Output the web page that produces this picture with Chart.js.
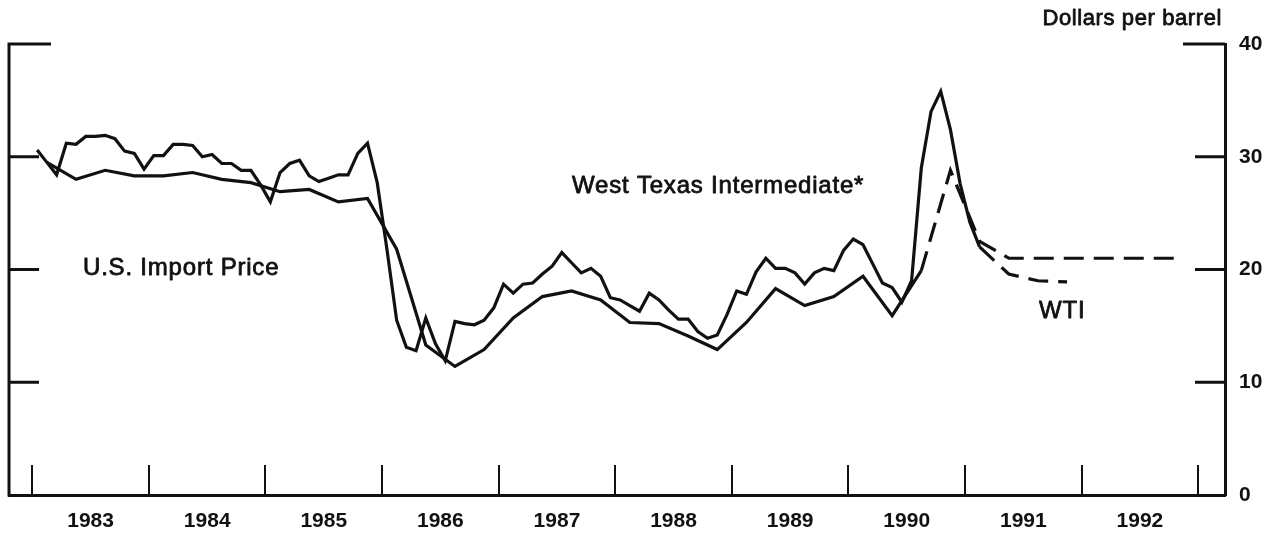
<!DOCTYPE html>
<html>
<head>
<meta charset="utf-8">
<title>Oil Prices</title>
<script src="https://cdn.jsdelivr.net/npm/chart.js@4.4.0/dist/chart.umd.min.js"></script>
<style>
  html, body { margin: 0; padding: 0; background: #fff; }
  #wrap { position: relative; width: 1277px; height: 535px; }
</style>
</head>
<body>
<div id="wrap"><canvas id="oilChart" width="1277" height="535"></canvas></div>
<script>
// West Texas Intermediate, monthly, dollars per barrel
var wti1983 = [30.6, 29.5, 28.4, 31.2, 31.1, 31.8, 31.8, 31.9, 31.6, 30.5, 30.3, 28.9];
var wti1984 = [30.1, 30.1, 31.1, 31.1, 31.0, 30.0, 30.2, 29.4, 29.4, 28.8, 28.8, 27.5];
var wti1985 = [26.0, 28.6, 29.4, 29.7, 28.3, 27.8, 28.1, 28.4, 28.4, 30.3, 31.2, 27.7];
var wti1986 = [21.8, 15.5, 13.1, 12.8, 15.7, 13.4, 11.9, 15.4, 15.2, 15.1, 15.5, 16.6];
var wti1987 = [18.7, 17.9, 18.7, 18.8, 19.6, 20.3, 21.5, 20.6, 19.7, 20.1, 19.4, 17.5];
var wti1988 = [17.3, 16.8, 16.3, 17.9, 17.3, 16.4, 15.6, 15.6, 14.5, 13.9, 14.2, 16.0];
var wti1989 = [18.1, 17.8, 19.8, 21.0, 20.1, 20.1, 19.7, 18.7, 19.7, 20.1, 19.9, 21.7];
var wti1990 = [22.7, 22.2, 20.5, 18.8, 18.4, 17.1, 19.0, 29.0, 34.0, 35.8, 32.4, 27.6];
var wti1991 = [24.2, 22.0];
// WTI outlook, quarterly 1991
var wtiOutlook = [22.0, 19.6, 19.0, 18.9];

// U.S. import price, quarterly
var import1983 = [29.5, 28.0, 28.8, 28.3];
var import1984 = [28.3, 28.6, 28.0, 27.7];
var import1985 = [26.9, 27.1, 26.0, 26.3];
var import1986 = [21.8, 13.3, 11.4, 12.9];
var import1987 = [15.7, 17.6, 18.1, 17.3];
var import1988 = [15.3, 15.2, 14.1, 12.9];
var import1989 = [15.3, 18.3, 16.8, 17.6];
var import1990 = [19.4, 15.9, 19.9];
// import price outlook, 1990 Q3 to 1992 Q4
var importOutlook = [19.9, 28.8, 22.5, 21.0, 21.0, 21.0, 21.0, 21.0, 21.0, 21.0];

var yearLabels = [1983, 1984, 1985, 1986, 1987, 1988, 1989, 1990, 1991, 1992];
var yearTicks = [1983, 1984, 1985, 1986, 1987, 1988, 1989, 1990, 1991, 1992, 1993];
var valueTicks = [0, 10, 20, 30, 40];

var FONT = '"Liberation Sans", Arial, Helvetica, sans-serif';
var INK = '#111';

// monthly values -> points at mid-month
function monthly(startYear, years){
    var pts = [];
    years.forEach(function(vals, k){
        vals.forEach(function(v, m){
            pts.push({x: startYear + k + (m + 0.5) / 12, y: v});
        });
    });
    return pts;
}

// quarterly values -> points at mid-quarter
function quarterly(startYear, startQuarter, vals){
    return vals.map(function(v, i){
        return {x: startYear + (startQuarter + i + 0.5) / 4, y: v};
    });
}

var wtiPoints = monthly(1983, [wti1983, wti1984, wti1985, wti1986, wti1987, wti1988, wti1989, wti1990, wti1991]);
var wtiOutlookPoints = quarterly(1991, 0, wtiOutlook);
var importPoints = quarterly(1983, 0, [].concat(import1983, import1984, import1985, import1986,
                                                import1987, import1988, import1989, import1990));
var importOutlookPoints = quarterly(1990, 2, importOutlook);

// heavier text, like the printed original
function inkText(ctx, text, x, y){
    ctx.fillText(text, x, y);
    ctx.strokeText(text, x, y);
}

// frame ticks and the text notes
var framePlugin = {
    id: 'frame',
    afterDraw: function(chart){
        var ctx = chart.ctx;
        var a = chart.chartArea;
        var xs = chart.scales.x, ys = chart.scales.y;
        ctx.save();
        ctx.strokeStyle = INK;
        ctx.lineCap = 'butt';

        ctx.lineWidth = 3;
        ctx.beginPath();
        ctx.moveTo(a.left, a.top - 1.5);
        ctx.lineTo(a.left, a.bottom + 1.5);
        valueTicks.forEach(function(v){
            if (v === 0) return;
            var len = (v === 40) ? 42 : 30;
            var y = ys.getPixelForValue(v);
            ctx.moveTo(a.left, y);
            ctx.lineTo(a.left + len, y);
            ctx.moveTo(a.right, y);
            ctx.lineTo(a.right - len, y);
        });
        ctx.stroke();

        ctx.lineWidth = 2;
        ctx.beginPath();
        yearTicks.forEach(function(yr){
            var x = Math.round(xs.getPixelForValue(yr));
            ctx.moveTo(x, a.bottom);
            ctx.lineTo(x, a.bottom - 30);
        });
        ctx.stroke();

        ctx.fillStyle = INK;
        ctx.lineWidth = 0.8;
        ctx.lineJoin = 'round';
        ctx.textBaseline = 'alphabetic';
        ctx.letterSpacing = '0.6px';
        ctx.font = '22px ' + FONT;
        ctx.textAlign = 'right';
        inkText(ctx, 'Dollars per barrel', 1222, 25);

        ctx.letterSpacing = '0.8px';
        ctx.font = '24px ' + FONT;
        ctx.textAlign = 'left';
        inkText(ctx, 'West Texas Intermediate*', 572, 193);
        inkText(ctx, 'U.S. Import Price', 83, 275);
        inkText(ctx, 'WTI', 1039, 318);
        ctx.restore();
    }
};

var lineStyle = {
    borderColor: INK,
    borderWidth: 3.2,
    pointRadius: 0,
    fill: false,
    tension: 0
};

new Chart(document.getElementById('oilChart'), {
    type: 'line',
    data: {
        datasets: [
            Object.assign({label: 'West Texas Intermediate', data: wtiPoints}, lineStyle),
            Object.assign({label: 'WTI outlook', data: wtiOutlookPoints, borderDash: [20, 10]}, lineStyle),
            Object.assign({label: 'U.S. Import Price', data: importPoints}, lineStyle),
            Object.assign({label: 'Import price outlook', data: importOutlookPoints, borderDash: [20, 10]}, lineStyle)
        ]
    },
    options: {
        responsive: false,
        devicePixelRatio: 1,
        animation: false,
        layout: { padding: { left: 9, top: 44, right: 0, bottom: 0 } },
        plugins: {
            legend: { display: false },
            tooltip: { enabled: false }
        },
        scales: {
            x: {
                type: 'linear',
                min: 1982.8,
                max: 1993.23,
                grid: { display: false, drawTicks: false },
                border: { display: true, color: INK, width: 3 },
                afterBuildTicks: function(scale){
                    scale.ticks = yearLabels.map(function(y){ return {value: y + 0.5}; });
                },
                ticks: {
                    autoSkip: false,
                    maxRotation: 0,
                    padding: 14,
                    color: INK,
                    font: { family: FONT, size: 21, weight: 'bold' },
                    callback: function(v){ return String(Math.floor(v)); }
                },
                afterFit: function(scale){ scale.height = 40; }
            },
            y: {
                position: 'right',
                min: 0,
                max: 40,
                grid: { display: false, drawTicks: false },
                border: { display: true, color: INK, width: 3 },
                afterBuildTicks: function(scale){
                    scale.ticks = valueTicks.map(function(v){ return {value: v}; });
                },
                ticks: {
                    padding: 14,
                    color: INK,
                    font: { family: FONT, size: 21, weight: 'bold' }
                },
                afterFit: function(scale){ scale.width = 52; }
            }
        }
    },
    plugins: [framePlugin]
});
</script>
</body>
</html>
